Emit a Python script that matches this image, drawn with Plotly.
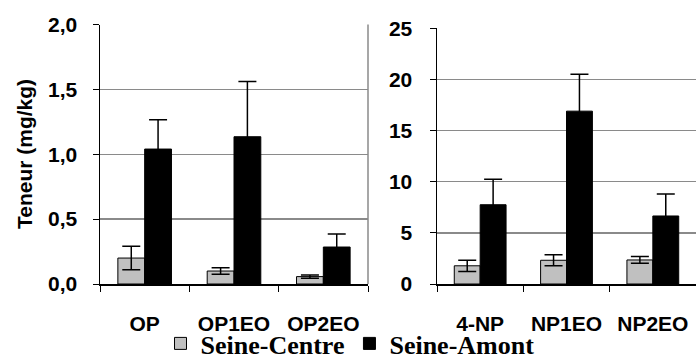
import plotly.graph_objects as go

# ---- data ----
op_categories = ["OP", "OP1EO", "OP2EO"]
op_centre = [0.20, 0.10, 0.057]
op_centre_err = [0.09, 0.025, 0.012]
op_amont = [1.04, 1.135, 0.285]
op_amont_err = [0.225, 0.425, 0.10]

np_categories = ["4-NP", "NP1EO", "NP2EO"]
np_centre = [1.78, 2.32, 2.35]
np_centre_err = [0.55, 0.53, 0.33]
np_amont = [7.75, 16.9, 6.65]
np_amont_err = [2.48, 3.6, 2.15]

series_names = ["Seine-Centre", "Seine-Amont"]
left_ticks = [0, 0.5, 1.0, 1.5, 2.0]
right_ticks = [0, 5, 10, 15, 20, 25]

W, H = 696, 358
GRAY = "#C0C0C0"
BLACK = "#000000"
GRID = "#8a8a8a"
SANS = "Liberation Sans, Arial, sans-serif"
SERIF = "Liberation Serif, Times New Roman, serif"

def err(vals):
    return dict(type="data", array=vals, visible=True, color="black", thickness=1.5, width=9)

fig = go.Figure()
fig.add_trace(go.Bar(x=op_categories, y=op_centre, error_y=err(op_centre_err),
                     name=series_names[0], legendgroup="c", marker=dict(color=GRAY, line=dict(color="black", width=1)),
                     xaxis="x", yaxis="y"))
fig.add_trace(go.Bar(x=op_categories, y=op_amont, error_y=err(op_amont_err),
                     name=series_names[1], legendgroup="a", marker=dict(color=BLACK, line=dict(color="black", width=1)),
                     xaxis="x", yaxis="y"))
fig.add_trace(go.Bar(x=np_categories, y=np_centre, error_y=err(np_centre_err),
                     name=series_names[0], legendgroup="c", showlegend=False,
                     marker=dict(color=GRAY, line=dict(color="black", width=1)),
                     xaxis="x2", yaxis="y2"))
fig.add_trace(go.Bar(x=np_categories, y=np_amont, error_y=err(np_amont_err),
                     name=series_names[1], legendgroup="a", showlegend=False,
                     marker=dict(color=BLACK, line=dict(color="black", width=1)),
                     xaxis="x2", yaxis="y2"))

tickfont = dict(family=SANS, size=21, color="black", weight="bold")
xcommon = dict(type="category", showline=True, linecolor="black", linewidth=1.5,
               ticks="outside", ticklen=6, tickcolor="black", tickson="boundaries",
               showgrid=False, tickfont=tickfont, ticklabelstandoff=20, fixedrange=True,
               automargin=False)

bottom = 1 - 284 / H
fig.update_layout(
    width=W, height=H,
    margin=dict(l=0, r=0, t=0, b=0, pad=0, autoexpand=False),
    paper_bgcolor="white", plot_bgcolor="white",
    separators=", ",
    barmode="group", bargap=0.4, bargroupgap=0,
    showlegend=True,
    legend=dict(orientation="h", x=350 / W, xanchor="center", y=-9 / H, yanchor="bottom",
                font=dict(family=SERIF, size=26, color="black", weight="bold"),
                bgcolor="rgba(0,0,0,0)", itemclick=False, itemdoubleclick=False),
    xaxis=dict(domain=[100 / W, 368 / W], anchor="y", **xcommon),
    yaxis=dict(domain=[bottom, 1 - 24.5 / H], anchor="x", range=[0, 2.0],
               tickvals=left_ticks, tickformat=".1f",
               showline=True, linecolor="black", linewidth=1.5,
               ticks="outside", ticklen=6, tickcolor="black",
               showgrid=True, gridcolor=GRID, gridwidth=1.5, zeroline=False,
               tickfont=tickfont, ticklabelstandoff=11, fixedrange=True, automargin=False),
    xaxis2=dict(domain=[437 / W, 1.0], anchor="y2", **xcommon),
    yaxis2=dict(domain=[bottom, 1 - 28.3 / H], anchor="x2", range=[0, 25],
                tickvals=right_ticks,
                showline=True, linecolor="black", linewidth=1.5,
                ticks="outside", ticklen=6, tickcolor="black",
                showgrid=True, gridcolor=GRID, gridwidth=1.5, zeroline=False,
                tickfont=tickfont, ticklabelstandoff=13, fixedrange=True, automargin=False),
    annotations=[dict(text="Teneur (mg/kg)", xref="paper", yref="paper",
                      x=24 / W, y=1 - 154 / H, xanchor="center", yanchor="middle",
                      textangle=-90, showarrow=False,
                      font=dict(family=SANS, size=21, color="black", weight="bold"))],
    shapes=[dict(type="line", xref="x domain", yref="y domain", x0=1, x1=1, y0=0, y1=1,
                 line=dict(color=GRID, width=1.5))],
)

fig.write_html("out.html", config={"displayModeBar": False, "staticPlot": True},
               post_script="document.body.style.margin='0';document.body.style.overflow='hidden';")
